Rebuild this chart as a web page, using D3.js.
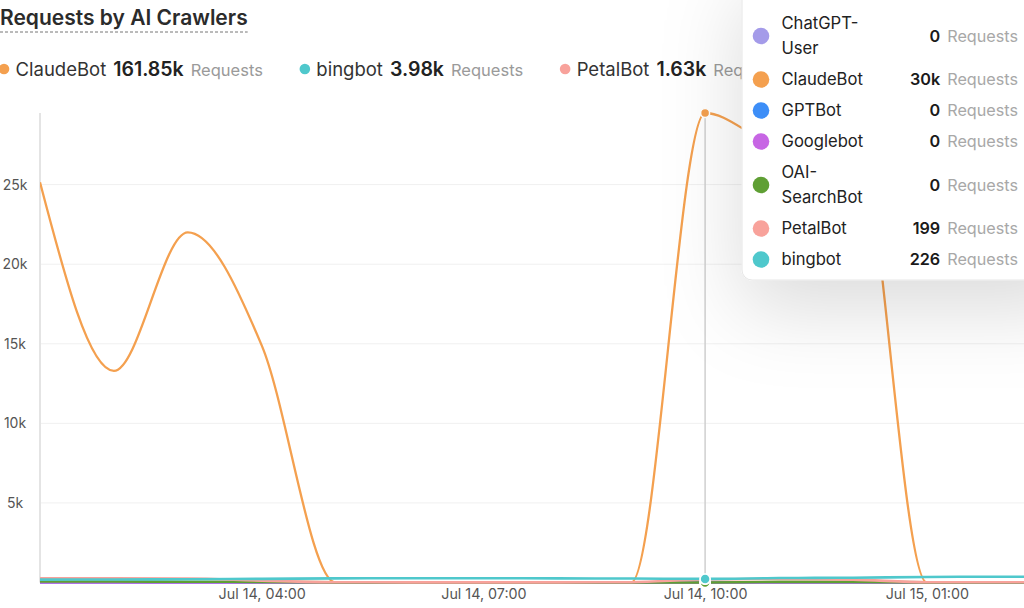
<!DOCTYPE html>
<html><head><meta charset="utf-8">
<script src="https://cdn.jsdelivr.net/npm/d3@7"></script>
<style>
html,body{margin:0;padding:0;background:#fff;overflow:hidden}
svg{display:block;font-family:Inter,"Noto Sans",sans-serif}
</style></head><body>
<svg id="c" width="1024" height="608"></svg>
<script>
// ---------- data ----------
const categories = ["Jul 14, 01:00","Jul 14, 02:00","Jul 14, 03:00","Jul 14, 04:00","Jul 14, 05:00",
  "Jul 14, 06:00","Jul 14, 07:00","Jul 14, 08:00","Jul 14, 09:00","Jul 14, 10:00",
  "Jul 14, 11:00","Jul 15, 00:00","Jul 15, 01:00","Jul 15, 02:00","Jul 15, 03:00"];
const xTickLabels = ["Jul 14, 04:00","Jul 14, 07:00","Jul 14, 10:00","Jul 15, 01:00"];
const yTickValues = [5000,10000,15000,20000,25000];
const yTickLabels = ["5k","10k","15k","20k","25k"];

const seriesNames  = ["ChatGPT-User","ClaudeBot","GPTBot","Googlebot","OAI-SearchBot","PetalBot","bingbot"];
const seriesColors = ["#a49be9","#f4a04f","#3d8ef7","#c766e4","#5f9f34","#f8a29b","#4fc8cc"];
const chatgptUser  = [0,0,0,0,0,0,0,0,0,0,0,0,0,0,0];
const claudeBot    = [25150,13300,22000,14900,0,0,0,0,0,29500,27600,29400,0,0,0];
const gptBot       = [0,0,0,0,0,0,0,0,0,0,0,0,0,0,0];
const googlebot    = [0,0,0,0,0,0,0,0,0,0,0,0,0,0,0];
const oaiSearchBot = [60,60,50,40,10,0,0,0,0,0,40,40,5,0,0];
const petalBot     = [260,270,250,120,20,10,10,10,20,199,230,180,20,15,15];
const bingbot      = [180,190,200,230,260,270,270,260,250,226,280,300,350,360,350];
const seriesValues = [chatgptUser,claudeBot,gptBot,googlebot,oaiSearchBot,petalBot,bingbot];

const legendNames  = ["ClaudeBot","bingbot","PetalBot"];
const legendTotals = ["161.85k","3.98k","1.63k"];
const hoverIndex = 9;
const tooltipValues = ["0","30k","0","0","0","199","226"];
const chartTitle = "Requests by AI Crawlers";

(function draw(){
const svg = d3.select("#c");
const left = 40, bottomY = 582.5, topY = 113;
const step = 73.9;
const x = d3.scalePoint().domain(categories).range([left, left + step*(categories.length-1)]);
const yMax = d3.max(claudeBot);
const y = d3.scaleLinear().domain([0, yMax]).range([bottomY, topY]);

const defs = svg.append("defs");
defs.append("clipPath").attr("id","plot").append("rect")
  .attr("x",left).attr("y",topY-6).attr("width",1024-left).attr("height",bottomY-topY+10);
const f = defs.append("filter").attr("id","sh").attr("x","-100%").attr("y","-100%").attr("width","300%").attr("height","300%");
f.append("feDropShadow").attr("dx",0).attr("dy",28).attr("stdDeviation",40).attr("flood-color","#000").attr("flood-opacity",0.14);

// title
const t = svg.append("text").attr("x",0).attr("y",25).attr("font-size",21).attr("font-weight",600)
  .attr("fill","#2b2b2b").text(chartTitle);
const tw = t.node().getComputedTextLength();
svg.append("line").attr("x1",0).attr("x2",tw).attr("y1",32).attr("y2",32)
  .attr("stroke","#777").attr("stroke-width",1).attr("stroke-dasharray","3,2");

// legend
let lx = 4;
legendNames.forEach((n,i)=>{
  const c = seriesColors[seriesNames.indexOf(n)];
  svg.append("circle").attr("cx",lx).attr("cy",69).attr("r",5.3).attr("fill",c);
  const tx = svg.append("text").attr("x",lx+11.5).attr("y",75.5);
  tx.append("tspan").attr("fill","#333").attr("font-size",18.5).text(n);
  tx.append("tspan").attr("fill","#222").attr("font-weight",600).attr("font-size",19.5).attr("dx",7).text(legendTotals[i]);
  tx.append("tspan").attr("fill","#9a9a9a").attr("dx",7).attr("font-size",16.5).text("Requests");
  const bb = tx.node().getBBox();
  lx = bb.x + bb.width + 42;
});

// grid
svg.append("g").selectAll("line").data(yTickValues).join("line")
  .attr("x1",left).attr("x2",1024).attr("y1",d=>y(d)).attr("y2",d=>y(d))
  .attr("stroke","#f0f0f0").attr("stroke-width",1);

// y axis
const ya = svg.append("g").attr("transform",`translate(${left},0)`)
  .call(d3.axisLeft(y).tickValues(yTickValues).tickFormat((d,i)=>yTickLabels[i]).tickSize(0));
ya.select(".domain").remove();
ya.selectAll("text").attr("x",-25).attr("text-anchor","middle").attr("font-size",14)
  .attr("font-family","Inter,'Noto Sans',sans-serif").attr("fill","#555");
svg.append("line").attr("x1",left).attr("x2",left).attr("y1",topY).attr("y2",bottomY)
  .attr("stroke","#e4e4e4").attr("stroke-width",2);

// x axis
const xa = svg.append("g").attr("transform",`translate(0,${bottomY})`)
  .call(d3.axisBottom(x).tickValues(xTickLabels).tickSize(0).tickPadding(6));
xa.select(".domain").remove();
xa.selectAll("text").attr("font-size",14.3).attr("font-family","Inter,'Noto Sans',sans-serif").attr("fill","#555");

// lines
const line = d3.line().x((d,i)=>x(categories[i])).y(d=>y(d)).curve(d3.curveMonotoneX);
const lg = svg.append("g").attr("clip-path","url(#plot)");
seriesValues.forEach((vals,i)=>{
  lg.append("path").attr("d",line(vals)).attr("fill","none")
    .attr("stroke",seriesColors[i]).attr("stroke-width", i===1?2.3:2.6).attr("stroke-linejoin","round");
});

// hover
const hx = x(categories[hoverIndex]);
svg.append("line").attr("x1",hx).attr("x2",hx).attr("y1",y(yMax)).attr("y2",bottomY)
  .attr("stroke","#cfcfcf").attr("stroke-width",1.5);
seriesValues.forEach((vals,i)=>{
  svg.append("circle").attr("cx",hx).attr("cy",y(vals[hoverIndex])).attr("r",i===1?4.5:5)
    .attr("fill",seriesColors[i]).attr("stroke","#fff").attr("stroke-width",1.5);
});

// tooltip
const tg = svg.append("g");
tg.append("rect").attr("x",742).attr("y",-30).attr("width",340).attr("height",310).attr("rx",10)
  .attr("fill","#fff").attr("stroke","#e6e6e6").attr("filter","url(#sh)");
let ry = 8;
seriesNames.forEach((n,i)=>{
  const parts = n.includes("-") ? [n.slice(0,n.indexOf("-")+1), n.slice(n.indexOf("-")+1)] : [n];
  const h = parts.length===2 ? 56 : 31;
  const cy = ry + h/2;
  tg.append("circle").attr("cx",761).attr("cy",cy).attr("r",8.3).attr("fill",seriesColors[i]);
  parts.forEach((l,j)=>{
    tg.append("text").attr("x",781.5).attr("y",cy + (parts.length===2 ? (j===0?-12.5:12.5) : 0))
      .attr("dy","0.35em").attr("font-size",16.6).attr("fill","#222").text(l);
  });
  const vt = tg.append("text").attr("x",1018).attr("y",cy).attr("dy","0.35em").attr("text-anchor","end").attr("font-size",16.2);
  vt.append("tspan").attr("font-weight",600).attr("fill","#1a1a1a").text(tooltipValues[i]);
  vt.append("tspan").attr("fill","#a8a8a8").attr("dx",7).text("Requests");
  ry += h;
});
})();
</script>
</body></html>
